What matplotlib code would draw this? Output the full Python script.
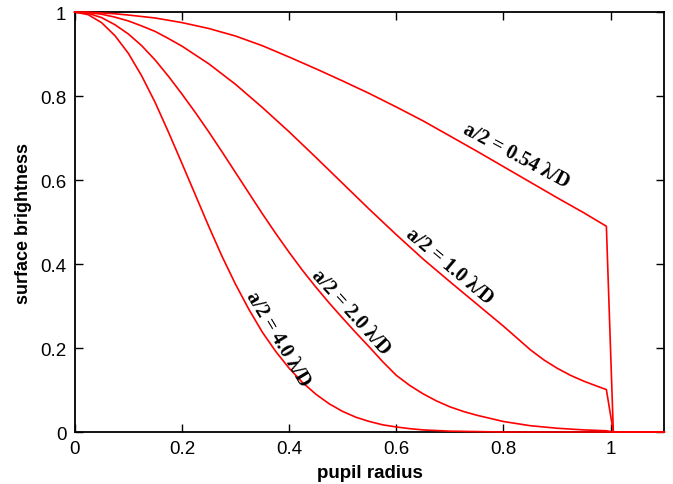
import matplotlib
matplotlib.use("Agg")
import matplotlib.pyplot as plt

# pupil radius samples and surface brightness for each apodization width
r_054 = [0, 0.025, 0.05, 0.075, 0.1, 0.15, 0.2, 0.25, 0.3, 0.35, 0.4, 0.45, 0.5, 0.55,
         0.6, 0.65, 0.7, 0.75, 0.8, 0.85, 0.9, 0.95, 0.992, 1.005, 1.1]
sb_054 = [1, 1.0, 0.998, 0.996, 0.993, 0.986, 0.975, 0.961, 0.943, 0.920, 0.893, 0.865,
          0.836, 0.806, 0.774, 0.741, 0.705, 0.669, 0.632, 0.595, 0.558, 0.522, 0.490, 0, 0]

r_10 = [0, 0.025, 0.05, 0.075, 0.1, 0.125, 0.15, 0.175, 0.2, 0.25, 0.3, 0.35, 0.4, 0.45,
        0.5, 0.55, 0.6, 0.65, 0.7, 0.75, 0.8, 0.825, 0.85, 0.875, 0.9, 0.925, 0.95, 0.975,
        0.992, 1.005, 1.1]
sb_10 = [1, 0.999, 0.995, 0.988, 0.979, 0.967, 0.954, 0.937, 0.919, 0.877, 0.828, 0.773,
         0.715, 0.654, 0.592, 0.530, 0.470, 0.412, 0.358, 0.305, 0.252, 0.224, 0.196, 0.172,
         0.152, 0.135, 0.121, 0.109, 0.101, 0, 0]

r_20 = [0, 0.025, 0.05, 0.075, 0.1, 0.125, 0.15, 0.175, 0.2, 0.225, 0.25, 0.275, 0.3, 0.325,
        0.35, 0.375, 0.4, 0.425, 0.45, 0.475, 0.5, 0.525, 0.55, 0.575, 0.6, 0.625, 0.65,
        0.675, 0.7, 0.725, 0.75, 0.8, 0.85, 0.9, 0.95, 0.992, 1.005, 1.1]
sb_20 = [1, 0.997, 0.987, 0.970, 0.948, 0.920, 0.886, 0.847, 0.805, 0.761, 0.715, 0.667,
         0.618, 0.569, 0.520, 0.473, 0.428, 0.385, 0.345, 0.307, 0.271, 0.236, 0.202, 0.167,
         0.135, 0.111, 0.091, 0.074, 0.060, 0.049, 0.040, 0.025, 0.015, 0.009, 0.005, 0.003,
         0, 0]

r_40 = [0, 0.025, 0.05, 0.075, 0.1, 0.125, 0.15, 0.175, 0.2, 0.225, 0.25, 0.275, 0.3, 0.325,
        0.35, 0.375, 0.4, 0.425, 0.45, 0.475, 0.5, 0.525, 0.55, 0.575, 0.6, 0.625, 0.65,
        0.7, 0.75, 0.8, 1.1]
sb_40 = [1, 0.994, 0.975, 0.944, 0.902, 0.848, 0.785, 0.714, 0.640, 0.565, 0.490, 0.418,
         0.352, 0.292, 0.238, 0.192, 0.152, 0.118, 0.090, 0.067, 0.049, 0.035, 0.025, 0.017,
         0.012, 0.008, 0.005, 0.002, 0.001, 0, 0]

labels = ["a/2 = 0.54 \u03bb/D", "a/2 = 1.0 \u03bb/D", "a/2 = 2.0 \u03bb/D", "a/2 = 4.0 \u03bb/D"]
label_x = [0.823, 0.699, 0.514, 0.380]
label_y = [0.660, 0.395, 0.287, 0.224]
label_rot = [-28, -40, -48, -59]

xticks = [0, 0.2, 0.4, 0.6, 0.8, 1]
xticklabels = ["0", "0.2", "0.4", "0.6", "0.8", "1"]
yticks = [0, 0.2, 0.4, 0.6, 0.8, 1]
yticklabels = ["0", "0.2", "0.4", "0.6", "0.8", "1"]

fig = plt.figure(figsize=(6.73, 4.85), dpi=100)
ax = fig.add_axes([0.111, 0.1072, 0.876, 0.8658])

for r, s in ((r_054, sb_054), (r_10, sb_10), (r_20, sb_20), (r_40, sb_40)):
    ax.plot(r, s, color="#ff0000", lw=1.2, clip_on=False, zorder=3)

for t, x, y, rot in zip(labels, label_x, label_y, label_rot):
    ax.text(x, y, t, rotation=rot, rotation_mode="anchor", ha="center", va="center",
            fontsize=14.5, fontweight="bold", family=["Liberation Serif", "DejaVu Serif"])

ax.set_xlim(0, 1.1)
ax.set_ylim(0, 1)
ax.set_xticks(xticks)
ax.set_xticklabels(xticklabels)
ax.set_yticks(yticks)
ax.set_yticklabels(yticklabels)
ax.tick_params(direction="in", length=6, width=1, top=True, right=True,
               labelsize=13.5, pad=6)
for lab in ax.get_xticklabels() + ax.get_yticklabels():
    lab.set_family("Liberation Sans")
for sp in ax.spines.values():
    sp.set_linewidth(1.3)

ax.set_xlabel("pupil radius", fontsize=13.5, fontweight="bold", family="Liberation Sans", labelpad=5)
ax.set_ylabel("surface brightness", fontsize=13, fontweight="bold", family="Liberation Sans", labelpad=6)

fig.savefig("out.png", dpi=100)
